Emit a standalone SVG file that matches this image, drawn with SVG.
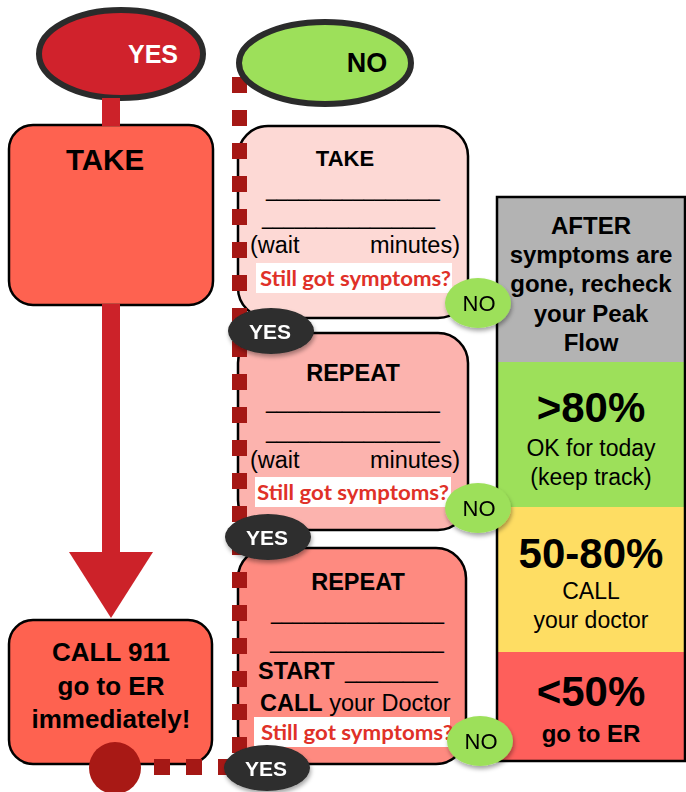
<svg xmlns="http://www.w3.org/2000/svg" width="686" height="792" viewBox="0 0 686 792">
<defs>
<filter id="sh" x="-30%" y="-30%" width="160%" height="170%"><feDropShadow dx="1" dy="3" stdDeviation="2" flood-color="#000" flood-opacity="0.35"/></filter>
<pattern id="dotsV" x="232" y="77" width="15" height="33" patternUnits="userSpaceOnUse"><rect width="15" height="16" fill="#a51815"/></pattern>
<pattern id="dotsH" x="154" y="759" width="32" height="16" patternUnits="userSpaceOnUse"><rect width="16" height="16" fill="#a51815"/></pattern>
</defs>
<style>
text{font-family:"Liberation Sans",Arial,sans-serif;fill:#000}
.b{font-weight:bold}
.w{fill:#fff}
.box{stroke:#000;stroke-width:2.5}
.q{font-family:Lato,"Open Sans",sans-serif;font-weight:bold;fill:#e03128;font-size:21px}
.u{font-size:23.5px}
.yes{fill:#2d2d2d}
.no{fill:#9de05a}
.bt{font-size:21px;font-weight:bold;fill:#fff;text-anchor:middle}
.nt{font-size:22px;text-anchor:middle}
.c{text-anchor:middle}
</style>
<rect width="686" height="792" fill="#fff"/>

<g id="yes-start">
<ellipse cx="121" cy="54" rx="82" ry="44" fill="#d0222c" stroke="#2b2b2b" stroke-width="6"/>
<text x="153" y="63" class="b c w" font-size="25">YES</text>
</g>

<g id="take-left">
<rect x="9" y="125" width="204" height="180" rx="24" fill="#fe6250" class="box"/>
<text x="105" y="170" class="b c" font-size="29.5">TAKE</text>
</g>

<g id="call911">
<rect x="9" y="620" width="203" height="144" rx="24" fill="#fe6250" class="box"/>
<text x="111" y="661" class="b c" font-size="26">CALL 911</text>
<text x="111" y="695" class="b c" font-size="26">go to ER</text>
<text x="111" y="728" class="b c" font-size="26">immediately!</text>
</g>

<g id="take-mid">
<rect x="238" y="126" width="230" height="192" rx="30" fill="#fdd9d5" class="box"/>
<text x="345" y="166" class="b c" font-size="22">TAKE</text>
<text x="266" y="196" class="u" textLength="174" lengthAdjust="spacingAndGlyphs">________________</text>
<text x="262" y="224" class="u" textLength="173" lengthAdjust="spacingAndGlyphs">________________</text>
<text x="250" y="253" class="u">(wait</text>
<text x="460" y="253" class="u" text-anchor="end">minutes)</text>
<rect x="256" y="263" width="196" height="30" fill="#fff"/>
<text x="260" y="286" class="q" textLength="191" lengthAdjust="spacingAndGlyphs">Still got symptoms?</text>
</g>

<g id="repeat1">
<rect x="238" y="333" width="230" height="197" rx="30" fill="#fcb3ae" class="box"/>
<text x="353" y="381" class="b c" font-size="23.5">REPEAT</text>
<text x="266" y="408" class="u" textLength="174" lengthAdjust="spacingAndGlyphs">________________</text>
<text x="266" y="438" class="u" textLength="174" lengthAdjust="spacingAndGlyphs">________________</text>
<text x="250" y="468" class="u">(wait</text>
<text x="460" y="468" class="u" text-anchor="end">minutes)</text>
<rect x="255" y="477" width="196" height="30" fill="#fff"/>
<text x="257" y="500" class="q" textLength="192" lengthAdjust="spacingAndGlyphs">Still got symptoms?</text>
</g>

<g id="repeat2">
<rect x="238" y="548" width="228" height="216" rx="30" fill="#fe8a80" class="box"/>
<text x="358" y="590" class="b c" font-size="23.5">REPEAT</text>
<text x="271" y="619" class="u" textLength="173" lengthAdjust="spacingAndGlyphs">________________</text>
<text x="270" y="648" class="u" textLength="174" lengthAdjust="spacingAndGlyphs">________________</text>
<text x="258" y="679" class="u b">START</text>
<text x="345" y="678" class="u" textLength="93" lengthAdjust="spacingAndGlyphs">________</text>
<text x="260" y="711" class="u"><tspan class="b">CALL</tspan> your Doctor</text>
<rect x="254" y="717" width="196" height="30" fill="#fff"/>
<text x="261" y="740" class="q" textLength="192" lengthAdjust="spacingAndGlyphs">Still got symptoms?</text>
</g>

<g id="connectors">
<rect x="102" y="98" width="18" height="28" fill="#cc2229"/>
<rect x="102" y="304" width="18" height="250" fill="#cc2229"/>
<polygon points="69,552 153,552 111,618" fill="#cc2229"/>
<rect x="232" y="77" width="15" height="690" fill="url(#dotsV)"/>
<rect x="154" y="759" width="80" height="16" fill="url(#dotsH)"/>
<circle cx="115" cy="768" r="26" fill="#a81915"/>
</g>

<g id="no-start">
<ellipse cx="325" cy="63" rx="86" ry="41" fill="#9de05a" stroke="#2b2b2b" stroke-width="6"/>
<text x="367" y="72" class="b c" font-size="27">NO</text>
</g>

<g id="peakflow">
<rect x="497" y="197" width="189" height="165" fill="#b3b3b3"/>
<rect x="497" y="362" width="189" height="145" fill="#9de05a"/>
<rect x="497" y="507" width="189" height="145" fill="#fedd63"/>
<rect x="497" y="652" width="189" height="109" fill="#fe5f5b"/>
<rect x="497" y="197" width="188" height="564" fill="none" stroke="#000" stroke-width="2.5"/>
<text x="591" y="234" class="b c" font-size="24">AFTER</text>
<text x="591" y="263" class="b c" font-size="24">symptoms are</text>
<text x="591" y="292" class="b c" font-size="24">gone, recheck</text>
<text x="591" y="322" class="b c" font-size="24">your Peak</text>
<text x="591" y="351" class="b c" font-size="24">Flow</text>
<text x="591" y="422" class="b c" font-size="42">&gt;80%</text>
<text x="591" y="456" class="c" font-size="23">OK for today</text>
<text x="591" y="485" class="c" font-size="23">(keep track)</text>
<text x="591" y="568" class="b c" font-size="42">50-80%</text>
<text x="591" y="599" class="c" font-size="23">CALL</text>
<text x="591" y="628" class="c" font-size="23">your doctor</text>
<text x="591" y="706" class="b c" font-size="42">&lt;50%</text>
<text x="591" y="742" class="b c" font-size="24">go to ER</text>
</g>

<g id="no1" filter="url(#sh)">
<ellipse cx="478" cy="303" rx="33" ry="25" class="no"/>
<text x="479" y="311" class="nt">NO</text>
</g>
<g id="no2" filter="url(#sh)">
<ellipse cx="478" cy="508" rx="33" ry="25" class="no"/>
<text x="479" y="516" class="nt">NO</text>
</g>
<g id="no3" filter="url(#sh)">
<ellipse cx="480" cy="741" rx="33" ry="25" class="no"/>
<text x="481" y="749" class="nt">NO</text>
</g>
<g id="yes1" filter="url(#sh)">
<ellipse cx="271" cy="331" rx="43" ry="23" class="yes"/>
<text x="270" y="339" class="bt">YES</text>
</g>
<g id="yes2" filter="url(#sh)">
<ellipse cx="268" cy="537" rx="43" ry="23" class="yes"/>
<text x="267" y="545" class="bt">YES</text>
</g>
<g id="yes3" filter="url(#sh)">
<ellipse cx="267" cy="768" rx="43" ry="23" class="yes"/>
<text x="266" y="776" class="bt">YES</text>
</g>
</svg>
